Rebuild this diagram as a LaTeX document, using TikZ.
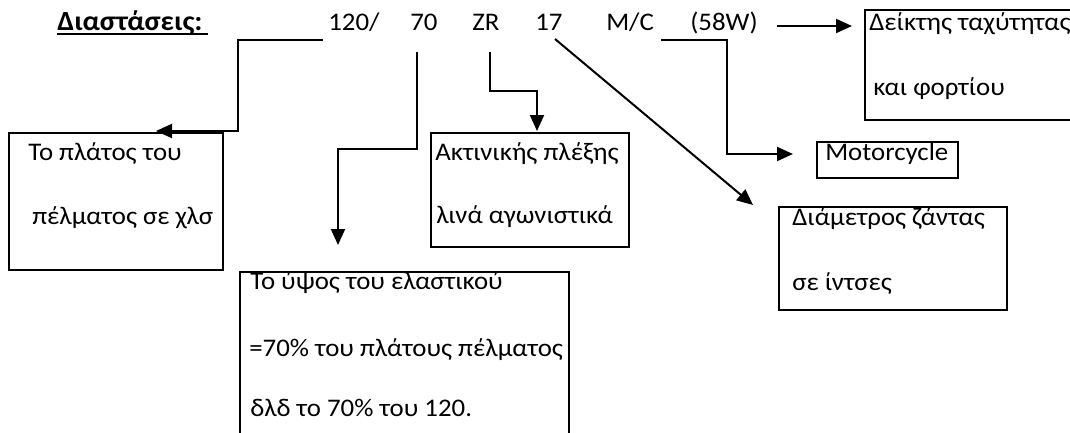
\documentclass[tikz,border=0pt]{standalone}
\usepackage{fontspec}
\setmainfont{Carlito}[FakeStretch=1.06]
\usetikzlibrary{arrows.meta}
\begin{document}
\begin{tikzpicture}[x=0.75pt,y=-0.75pt,
  txt/.style={anchor=base west, inner sep=0pt, font=\fontsize{19pt}{23pt}\selectfont},
  box/.style={draw, line width=1.5pt, rectangle, inner sep=0pt, anchor=north west},
  boxwh/.style n args={2}{box, minimum width=#1*0.75pt, minimum height=#2*0.75pt},
  conn/.style={line width=1.5pt},
  arr/.style={conn, -{Triangle[length=12pt,width=10.5pt]}}]
\useasboundingbox (0,0) rectangle (1070,432);
\clip (0,0) rectangle (1070,432);
\fill[white] (0,0) rectangle (1070,432);

% boxes
\node[boxwh={214}{137}] (bwidth) at (8,132) {};
\node[boxwh={329}{180}] (bheight) at (239,271) {};
\node[boxwh={198}{114}] (bradial) at (430,132) {};
\node[boxwh={230}{110}] (bindex) at (864,9) {};
\node[boxwh={141}{36}] (bmoto) at (816,141) {};
\node[boxwh={228}{103}] (bdiam) at (778,206) {};

% top row
\node[txt, font=\fontsize{20.8pt}{23pt}\selectfont] (title) at (57,30) {\textbf{Διαστάσεις:}};
\draw[line width=1.4pt] (57,34) -- (208,34);
\node[txt] (n120) at (328,30) {120/};
\node[txt] (n70) at (410,30) {70};
\node[txt] (nZR) at (472,30) {ZR};
\node[txt] (n17) at (535,30) {17};
\node[txt] (nMC) at (606,30) {M/C};
\node[txt] (n58) at (690,30) {(58W)};

% box texts
\node[txt] (t1a) at (869,30) {Δείκτης ταχύτητας};
\node[txt] (t1b) at (873,95) {και φορτίου};
\node[txt] (t2a) at (28,160) {Το πλάτος του};
\node[txt] (t2b) at (32,224) {πέλματος σε χλσ};
\node[txt] (t3a) at (435,160) {Ακτινικής πλέξης};
\node[txt] (t3b) at (436,223) {λινά αγωνιστικά};
\node[txt] (t4) at (825,160) {Motorcycle};
\node[txt] (t5a) at (792,225) {Διάμετρος ζάντας};
\node[txt] (t5b) at (792,290) {σε ίντσες};
\node[txt] (t6a) at (250,289) {Το ύψος του ελαστικού};
\node[txt] (t6b) at (249,356) {=70\% του πλάτους πέλματος};
\node[txt] (t6c) at (250,416) {δλδ το 70\% του 120.};

% connector end points
\coordinate (s120) at (323,40);
\coordinate (e120) at (156,131);
\coordinate (s70) at (417,52);
\coordinate (e70) at (338,245);
\coordinate (sZR) at (490,52);
\coordinate (eZR) at (537,131);
\coordinate (s17) at (555,39);
\coordinate (e17) at (753,205);
\coordinate (sMC) at (661,40);
\coordinate (eMC) at (793,154);
\coordinate (s58) at (777,26);
\coordinate (e58) at (852,26);

% connectors
\draw[arr] (s120) -- ++(-85,0) |- (e120);
\draw[arr] (s70) -- ++(0,97) -| (e70);
\draw[arr] (sZR) -- ++(0,39) -| (eZR);
\draw[arr] (s17) -- (e17);
\draw[arr] (sMC) -- ++(66,0) |- (eMC);
\draw[arr] (s58) -- (e58);
\end{tikzpicture}
\end{document}
